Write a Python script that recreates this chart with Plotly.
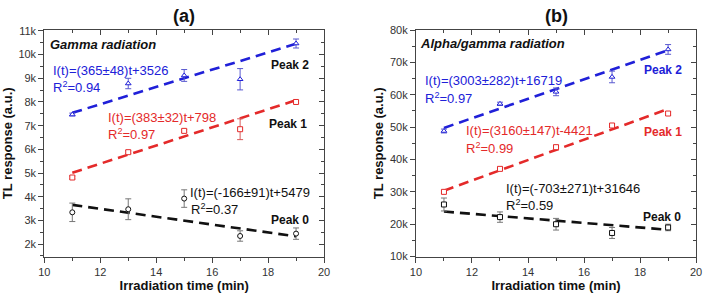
import plotly.graph_objects as go

# ---------------- data ----------------
t = [11, 13, 15, 17, 19]

# Panel (a) Gamma radiation
a_peak2 = [7470, 8780, 9120, 8960, 10470]
a_peak2_err = [60, 220, 250, 450, 190]
a_peak1 = [4810, 5880, 6780, 6850, 8000]
a_peak1_err = [60, 60, 60, 440, 60]
a_peak0 = [3340, 3470, 3920, 2340, 2440]
a_peak0_err = [390, 440, 370, 220, 240]
a_slopes = [365, 383, -166]
a_intercepts = [3526, 798, 5479]

# Panel (b) Alpha/gamma radiation
b_peak2 = [48800, 57200, 60900, 65500, 74000]
b_peak2_err = [600, 500, 1200, 1800, 1500]
b_peak1 = [30000, 37100, 43800, 50500, 54200]
b_peak1_err = [500, 500, 600, 500, 500]
b_peak0 = [26100, 22200, 20000, 17300, 19000]
b_peak0_err = [2000, 1600, 1800, 1700, 1000]
b_slopes = [3003, 3160, -703]
b_intercepts = [16719, -4421, 31646]

fit_t = [11, 19]

BLUE = "#2020d8"
RED = "#e42a2a"
BLACK = "#111111"
FONT = "Liberation Sans, Arial, sans-serif"

fig = go.Figure()

def add_series(xa, ya, y, err, color, errcolor, symbol, slope, intercept):
    fig.add_trace(go.Scatter(
        x=fit_t, y=[slope * v + intercept for v in fit_t], mode="lines",
        line=dict(color=color, width=2.6, dash="10px,6px"),
        xaxis=xa, yaxis=ya, showlegend=False, hoverinfo="skip"))
    fig.add_trace(go.Scatter(
        x=t, y=y, mode="markers",
        marker=dict(symbol=symbol, size=5, color="white",
                    line=dict(color=color, width=1)),
        error_y=dict(type="data", array=err, color=errcolor, thickness=1, width=3),
        xaxis=xa, yaxis=ya, showlegend=False))

add_series("x", "y", a_peak2, a_peak2_err, BLUE, "#5a5ad0", "triangle-up", a_slopes[0], a_intercepts[0])
add_series("x", "y", a_peak1, a_peak1_err, RED, "#d85a5a", "square", a_slopes[1], a_intercepts[1])
add_series("x", "y", a_peak0, a_peak0_err, BLACK, "#777777", "circle", a_slopes[2], a_intercepts[2])
add_series("x2", "y2", b_peak2, b_peak2_err, BLUE, "#5a5ad0", "triangle-up", b_slopes[0], b_intercepts[0])
add_series("x2", "y2", b_peak1, b_peak1_err, RED, "#d85a5a", "square", b_slopes[1], b_intercepts[1])
add_series("x2", "y2", b_peak0, b_peak0_err, BLACK, "#777777", "square", b_slopes[2], b_intercepts[2])

# dummy traces for mirrored (inside tick) axes
for xa, ya in [("x3", "y3"), ("x4", "y4")]:
    fig.add_trace(go.Scatter(x=[None], y=[None], xaxis=xa, yaxis=ya,
                             showlegend=False, hoverinfo="skip"))

dom_a = [39 / 709, 323.5 / 709]
dom_b = [417 / 709, 702 / 709]
dom_y = [1 - 261 / 301, 1 - 25 / 301]
range_a = [1470, 11040]
range_b = [10000, 80000]
AXC = "#444444"
tickfont = dict(family=FONT, size=11, color="#333333")
titlefont = dict(family=FONT, size=13, color="#111111")

def xax(domain, anchor, title):
    return dict(domain=domain, anchor=anchor, range=[10, 20], dtick=2, tick0=10,
                ticks="outside", ticklen=5, tickcolor=AXC, showline=True, linecolor=AXC,
                linewidth=1, showgrid=False, zeroline=False, tickfont=tickfont,
                minor=dict(ticks="outside", ticklen=3, dtick=1, tickcolor=AXC),
                title=dict(text="<b>" + title + "</b>", font=titlefont, standoff=4))

def yax(domain, anchor, rng, dtick, title):
    return dict(domain=domain, anchor=anchor, range=rng, dtick=dtick, tick0=0,
                ticks="outside", ticklen=5, tickcolor=AXC, showline=True, linecolor=AXC,
                linewidth=1, showgrid=False, zeroline=False, tickfont=tickfont,
                tickformat="~s",
                minor=dict(ticks="outside", ticklen=3, dtick=dtick / 2, tickcolor=AXC),
                title=dict(text="<b>" + title + "</b>", font=titlefont, standoff=3))

def xmirror(domain, anchor, over):
    return dict(domain=domain, anchor=anchor, overlaying=over, side="top", range=[10, 20],
                dtick=2, tick0=10, ticks="inside", ticklen=5, tickcolor=AXC, showline=True,
                linecolor=AXC, linewidth=1, showgrid=False, zeroline=False,
                showticklabels=False,
                minor=dict(ticks="inside", ticklen=3, dtick=1, tickcolor=AXC))

def ymirror(domain, anchor, over, rng, dtick):
    return dict(domain=domain, anchor=anchor, overlaying=over, side="right", range=rng,
                dtick=dtick, tick0=0, ticks="inside", ticklen=5, tickcolor=AXC, showline=True,
                linecolor=AXC, linewidth=1, showgrid=False, zeroline=False,
                showticklabels=False,
                minor=dict(ticks="inside", ticklen=3, dtick=dtick / 2, tickcolor=AXC))

fig.update_layout(
    width=709, height=301, margin=dict(l=0, r=0, t=0, b=0),
    paper_bgcolor="white", plot_bgcolor="white",
    font=dict(family=FONT),
    xaxis=xax(dom_a, "y", "Irradiation time (min)"),
    yaxis=yax(dom_y, "x", range_a, 1000, "TL response (a.u.)"),
    xaxis2=xax(dom_b, "y2", "Irradiation time (min)"),
    yaxis2=yax(dom_y, "x2", range_b, 10000, "TL response (a.u.)"),
    xaxis3=xmirror(dom_a, "y3", "x"),
    yaxis3=ymirror(dom_y, "x3", "y", range_a, 1000),
    xaxis4=xmirror(dom_b, "y4", "x2"),
    yaxis4=ymirror(dom_y, "x4", "y2", range_b, 10000),
)

def ann(text, x, y, xref, yref, color, size=13, bold=False, italic=False):
    s = text
    if bold:
        s = "<b>" + s + "</b>"
    if italic:
        s = "<i>" + s + "</i>"
    fig.add_annotation(text=s, x=x, y=y, xref=xref, yref=yref, xanchor="left",
                       yanchor="middle", showarrow=False, borderpad=0,
                       font=dict(family=FONT, size=size, color=color))

# Panel titles
fig.add_annotation(text="<b>(a)</b>", x=181.5 / 709, y=1 - 10 / 301, xref="paper", yref="paper",
                   showarrow=False, xanchor="center", yanchor="middle",
                   font=dict(family=FONT, size=18, color="#111111"))
fig.add_annotation(text="<b>(b)</b>", x=560 / 709, y=1 - 10 / 301, xref="paper", yref="paper",
                   showarrow=False, xanchor="center", yanchor="middle",
                   font=dict(family=FONT, size=18, color="#111111"))

# Panel (a) annotations
ann("Gamma radiation", 10.15, 10430, "x", "y", "#111111", bold=True, italic=True)
ann("I(t)=(365±48)t+3526", 10.28, 9350, "x", "y", BLUE)
ann("R<sup>2</sup>=0.94", 10.28, 8640, "x", "y", BLUE)
ann("Peak 2", 18.06, 9550, "x", "y", "#111111", size=12, bold=True)
ann("I(t)=(383±32)t+798", 12.25, 7340, "x", "y", RED)
ann("R<sup>2</sup>=0.97", 12.25, 6640, "x", "y", RED)
ann("Peak 1", 18.0, 7060, "x", "y", "#111111", size=12, bold=True)
ann("I(t)=(-166±91)t+5479", 15.16, 4170, "x", "y", "#111111")
ann("R<sup>2</sup>=0.37", 15.2, 3460, "x", "y", "#111111")
ann("Peak 0", 18.06, 3000, "x", "y", "#111111", size=12, bold=True)

# Panel (b) annotations
ann("Alpha/gamma radiation", 10.12, 75700, "x2", "y2", "#111111", bold=True, italic=True)
ann("I(t)=(3003±282)t+16719", 10.28, 64500, "x2", "y2", BLUE)
ann("R<sup>2</sup>=0.97", 10.28, 59100, "x2", "y2", BLUE)
ann("Peak 2", 18.1, 67600, "x2", "y2", BLUE, size=12, bold=True)
ann("I(t)=(3160±147)t-4421", 11.76, 49000, "x2", "y2", RED)
ann("R<sup>2</sup>=0.99", 11.76, 43700, "x2", "y2", RED)
ann("Peak 1", 18.1, 48400, "x2", "y2", RED, size=12, bold=True)
ann("I(t)=(-703±271)t+31646", 13.18, 30950, "x2", "y2", "#111111")
ann("R<sup>2</sup>=0.59", 13.18, 25800, "x2", "y2", "#111111")
ann("Peak 0", 18.07, 22100, "x2", "y2", "#111111", size=12, bold=True)

fig.write_html("out.html")
